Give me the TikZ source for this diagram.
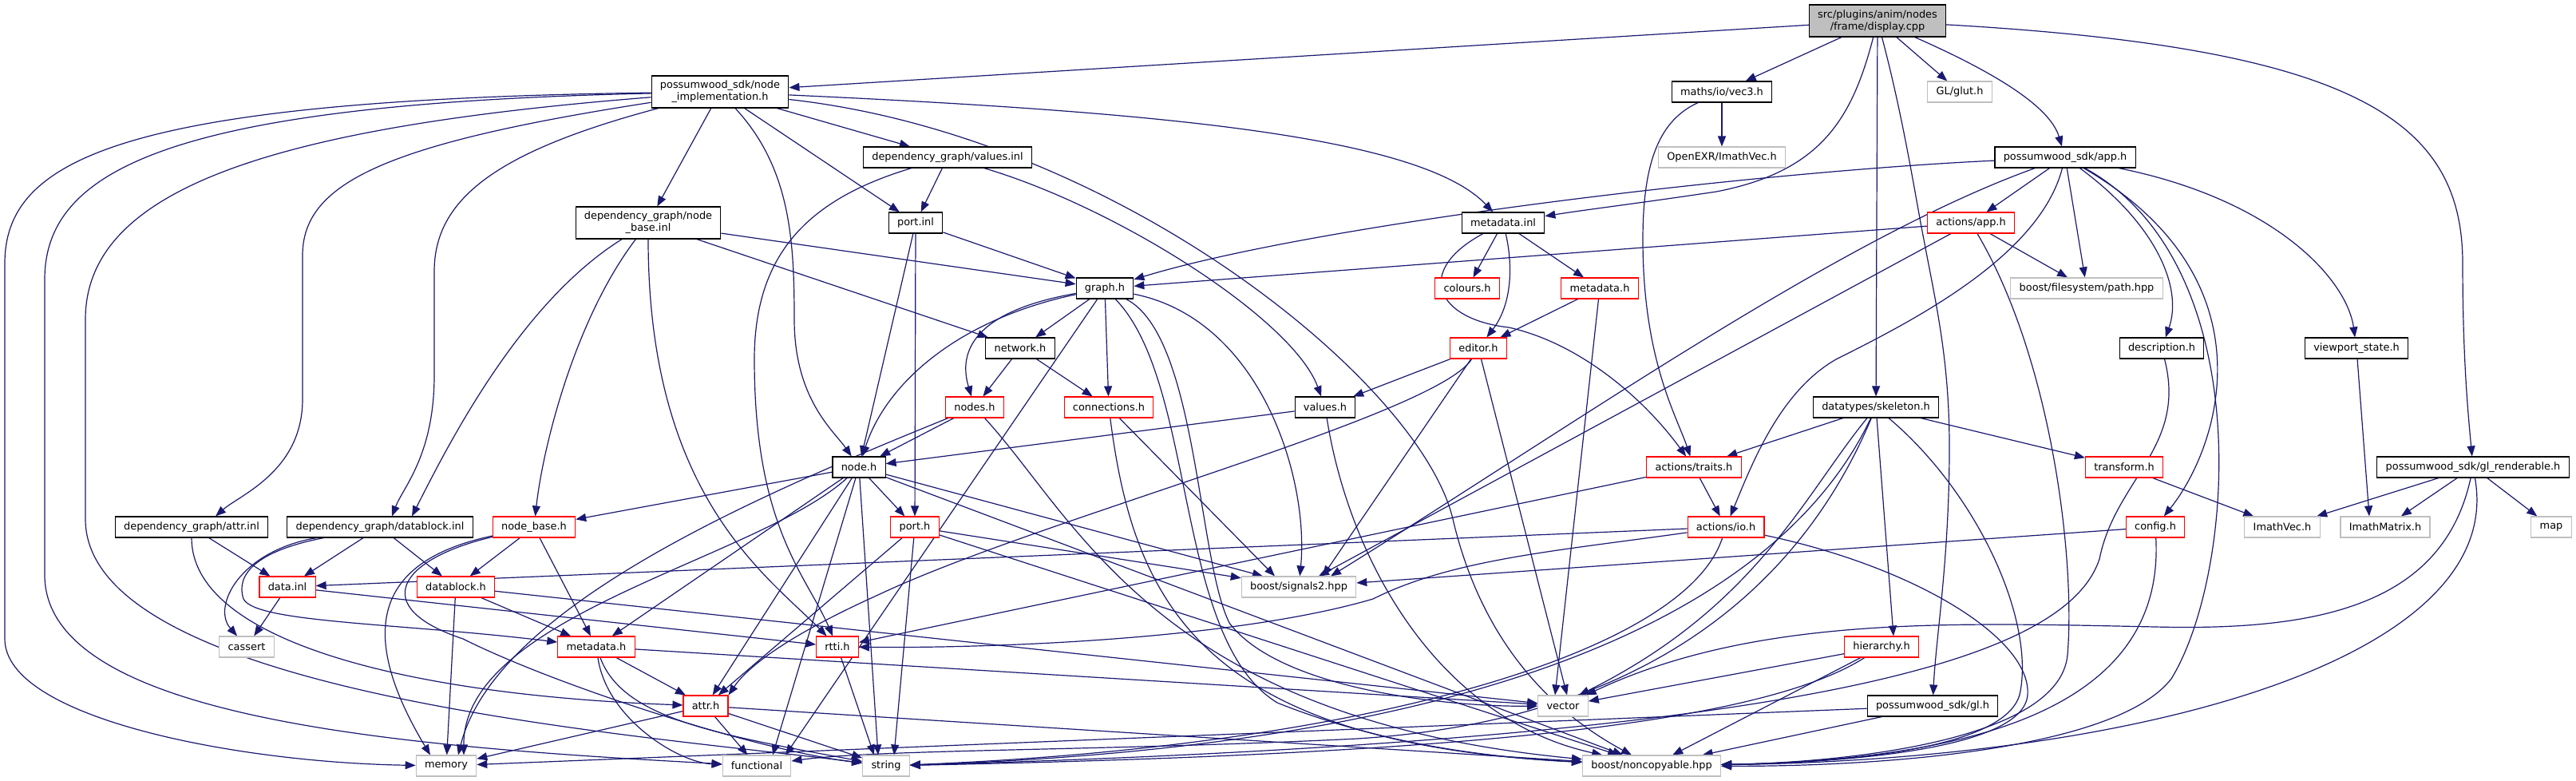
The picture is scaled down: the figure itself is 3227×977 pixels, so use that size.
\documentclass[tikz,border=0pt]{standalone}
\usepackage{fontspec}
\setmainfont{DejaVu Sans}
\usetikzlibrary{arrows.meta}
\definecolor{eblue}{HTML}{191970}
\definecolor{gry}{HTML}{BFBFBF}
\definecolor{rootfill}{HTML}{BFBFBF}
\pgfdeclarelayer{edgelayer}
\pgfsetlayers{edgelayer,main}
\newcommand{\dgfont}{\fontsize{12.9}{15}\selectfont}
\tikzset{
  nb/.style={draw=black, fill=white, line width=1.1pt, font=\dgfont, text=black, inner xsep=10.8pt, inner ysep=0pt, minimum height=26pt, align=center},
  nr/.style={nb, draw=red},
  ng/.style={nb, draw=gry},
  tl/.style={minimum height=40pt},
  e/.style={draw=eblue, line width=1.2pt, -{Triangle[length=13pt,width=10pt]}},
}
\begin{document}
\begin{tikzpicture}[x=1pt,y=-1pt]
\useasboundingbox (0,0) rectangle (3227,977);
% nodes
\node[nb,fill=rootfill,tl] (root) at (2352,26) {src/plugins/anim/nodes\\/frame/display.cpp};
\node[nb,tl] (ni) at (902,115) {possumwood\_sdk/node\\\_implementation.h};
\node[nb] (vec3) at (2157,115) {maths/io/vec3.h};
\node[ng] (glut) at (2455,115) {GL/glut.h};
\node[nb] (valinl) at (1187,197) {dependency\_graph/values.inl};
\node[ng] (exrvec) at (2157,197) {OpenEXR/ImathVec.h};
\node[nb] (apph) at (2587,197) {possumwood\_sdk/app.h};
\node[nb,tl] (nbinl) at (812,279) {dependency\_graph/node\\\_base.inl};
\node[nb] (portinl) at (1147,279) {port.inl};
\node[nb] (mdinl) at (1883,279) {metadata.inl};
\node[nr] (actapp) at (2469,279) {actions/app.h};
\node[nb] (graphh) at (1384,361) {graph.h};
\node[nr] (colours) at (1838,361) {colours.h};
\node[nr] (mdhA) at (2004,361) {metadata.h};
\node[ng] (fspath) at (2614,361) {boost/filesystem/path.hpp};
\node[nb] (network) at (1278,436) {network.h};
\node[nr] (editor) at (1852,436) {editor.h};
\node[nb] (desc) at (2708,436) {description.h};
\node[nb] (viewport) at (2952,436) {viewport\_state.h};
\node[nr] (nodesh) at (1221,510) {nodes.h};
\node[nr] (conn) at (1389,510) {connections.h};
\node[nb] (values) at (1660,510) {values.h};
\node[nb] (skel) at (2350,510) {datatypes/skeleton.h};
\node[nb] (nodeh) at (1076,585) {node.h};
\node[nr] (traits) at (2122,585) {actions/traits.h};
\node[nr] (transform) at (2661,585) {transform.h};
\node[nb] (glrend) at (3098,585) {possumwood\_sdk/gl\_renderable.h};
\node[nb] (attrinl) at (240,660) {dependency\_graph/attr.inl};
\node[nb] (dbinl) at (476,660) {dependency\_graph/datablock.inl};
\node[nr] (nbh) at (669,660) {node\_base.h};
\node[nr] (porth) at (1146,660) {port.h};
\node[nr] (ioh) at (2162,660) {actions/io.h};
\node[nr] (config) at (2700,660) {config.h};
\node[ng] (imathvec) at (2859,660) {ImathVec.h};
\node[ng] (imathmat) at (2988,660) {ImathMatrix.h};
\node[ng] (maph) at (3196,660) {map};
\node[nr] (datainl) at (360,735) {data.inl};
\node[nr] (dbh) at (571,735) {datablock.h};
\node[ng] (signals) at (1627,735) {boost/signals2.hpp};
\node[ng] (cassert) at (309,810) {cassert};
\node[nr] (mdhB) at (747,810) {metadata.h};
\node[nr] (rtti) at (1049,810) {rtti.h};
\node[nr] (hier) at (2357,810) {hierarchy.h};
\node[nr] (attrh) at (884,884) {attr.h};
\node[ng] (vectorh) at (1958,884) {vector};
\node[nb] (glh) at (2421,884) {possumwood\_sdk/gl.h};
\node[ng] (memoryh) at (559,959) {memory};
\node[ng] (functionalh) at (948,959) {functional};
\node[ng] (stringh) at (1110,959) {string};
\node[ng] (noncopy) at (2069,959) {boost/noncopyable.hpp};

\begin{pgfonlayer}{edgelayer}
% root
\draw[e] (root) -- (ni);
\draw[e] (root) -- (vec3);
\draw[e] (root) -- (glut);
\draw[e] (root) .. controls (2520,100) and (2570,140) .. (apph);
\draw[e] (root) .. controls (2320,150) and (2280,215) .. (2150,240) .. controls (2050,255) and (1990,262) .. (mdinl);
\draw[e] (root) -- (skel);
\draw[e] (root) .. controls (2385,150) and (2400,250) .. (2410,300) .. controls (2425,380) and (2442,450) .. (2442,560) .. controls (2442,700) and (2425,800) .. (glh);
\draw[e] (root) .. controls (2950,60) and (3085,150) .. (3085,330) .. controls (3085,450) and (3092,520) .. (glrend);
% vec3
\draw[e] (vec3) -- (exrvec);
\draw[e] (vec3) .. controls (2080,150) and (2058,200) .. (2058,300) .. controls (2058,450) and (2100,520) .. (traits);
% node_implementation
\draw[e] (ni) .. controls (150,125) and (6,200) .. (6,330) -- (6,800) .. controls (6,900) and (300,955) .. (memoryh);
\draw[e] (ni) .. controls (220,130) and (56,210) .. (56,350) -- (56,720) .. controls (56,900) and (500,935) .. (functionalh);
\draw[e] (ni) .. controls (330,160) and (107,240) .. (107,400) -- (107,650) .. controls (107,870) and (800,920) .. (stringh);
\draw[e] (ni) .. controls (480,180) and (379,230) .. (379,320) -- (379,500) .. controls (379,590) and (300,620) .. ([xshift=30pt]attrinl.north);
\draw[e] (ni) .. controls (620,190) and (544,250) .. (544,340) -- (544,470) .. controls (544,570) and (505,610) .. ([xshift=15pt]dbinl.north);
\draw[e] (ni) -- (nbinl);
\draw[e] (ni) .. controls (990,210) and (995,300) .. (995,400) .. controls (995,500) and (1045,540) .. (nodeh);
\draw[e] (ni) -- (portinl);
\draw[e] (ni) -- (valinl);
\draw[e] (ni) .. controls (1450,140) and (1780,170) .. (mdinl);
\draw[e] (ni) .. controls (1400,170) and (1780,480) .. (1820,650) .. controls (1860,820) and (1960,900) .. (noncopy);
% values.inl
\draw[e] (valinl) -- (portinl);
\draw[e] (valinl) .. controls (1400,260) and (1620,400) .. (values);
\draw[e] (valinl) .. controls (1010,250) and (945,320) .. (945,450) .. controls (945,660) and (1010,720) .. (rtti);
% node_base.inl
\draw[e] (nbinl) .. controls (650,380) and (560,560) .. ([xshift=40pt]dbinl.north);
\draw[e] (nbinl) .. controls (720,400) and (680,560) .. (nbh);
\draw[e] (nbinl) .. controls (812,620) and (960,720) .. (rtti);
\draw[e] (nbinl) -- (network);
\draw[e] (nbinl) -- (graphh);
% port.inl
\draw[e] (portinl) -- (graphh);
\draw[e] (portinl) -- (nodeh);
\draw[e] (portinl) -- (porth);
% metadata.inl
\draw[e] (mdinl) -- (colours);
\draw[e] (mdinl) .. controls (1895,330) and (1895,380) .. (editor);
\draw[e] (mdinl) -- (mdhA);
\draw[e] (mdinl) .. controls (1770,340) and (1800,400) .. (1890,410) .. controls (1980,430) and (2060,500) .. (traits);
% app.h
\draw[e] (apph) .. controls (2200,215) and (1650,280) .. (graphh);
\draw[e] (apph) -- (actapp);
\draw[e] (apph) .. controls (2555,320) and (2400,400) .. (2300,450) .. controls (2230,490) and (2195,580) .. (ioh);
\draw[e] (apph) -- (fspath);
\draw[e] (apph) .. controls (2700,280) and (2735,360) .. (desc);
\draw[e] (apph) .. controls (2850,250) and (2940,350) .. (viewport);
\draw[e] (apph) .. controls (2300,300) and (1960,540) .. ([xshift=40pt]signals.north);
\draw[e] (apph) .. controls (2850,350) and (2780,560) .. (config);
\draw[e] (apph) .. controls (2830,330) and (2800,720) .. (2720,850) .. controls (2650,940) and (2350,960) .. (noncopy);
% actions/app.h
\draw[e] (actapp) -- (graphh);
\draw[e] (actapp) -- (fspath);
\draw[e] (actapp) .. controls (2570,450) and (2600,700) .. (2590,820) .. controls (2580,930) and (2300,955) .. (noncopy);
\draw[e] (actapp) -- (signals);
% graph.h
\draw[e] (graphh) .. controls (1220,390) and (1200,440) .. (nodesh);
\draw[e] (graphh) .. controls (1200,400) and (1110,480) .. (nodeh);
\draw[e] (graphh) -- (network);
\draw[e] (graphh) -- (conn);
\draw[e] (graphh) -- ([xshift=36pt]functionalh.north);
\draw[e] (graphh) .. controls (1500,480) and (1470,800) .. (1600,880) .. controls (1750,940) and (1900,950) .. (noncopy);
\draw[e] (graphh) .. controls (1500,420) and (1500,700) .. (1540,780) .. controls (1600,860) and (1800,885) .. (vectorh);
\draw[e] (graphh) .. controls (1580,400) and (1640,600) .. (signals);
% metadata.h (upper)
\draw[e] (mdhA) -- (editor);
\draw[e] (mdhA) -- ([xshift=-10pt]vectorh.north);
% network.h
\draw[e] (network) -- (nodesh);
\draw[e] (network) -- (conn);
% editor.h
\draw[e] (editor) -- (values);
\draw[e] (editor) -- ([xshift=30pt]signals.north);
\draw[e] (editor) -- ([xshift=5pt]vectorh.north);
\draw[e] (editor) .. controls (1800,520) and (1300,650) .. (1100,745) .. controls (1000,790) and (940,830) .. (attrh.north east);
% nodes.h
\draw[e] (nodesh) -- (nodeh);
\draw[e] (nodesh) .. controls (950,620) and (620,760) .. ([xshift=15pt]memoryh.north);
\draw[e] (nodesh) .. controls (1350,650) and (1450,900) .. (noncopy);
% connections.h
\draw[e] (conn) -- ([xshift=-30pt]signals.north);
\draw[e] (conn) .. controls (1420,750) and (1500,930) .. (noncopy);
% values.h
\draw[e] (values) -- (nodeh);
\draw[e] (values) .. controls (1690,700) and (1800,900) .. (noncopy);
% skeleton.h
\draw[e] (skel) -- (traits);
\draw[e] (skel) -- (transform);
\draw[e] (skel) -- ([xshift=15pt]hier.north);
\draw[e] (skel) .. controls (2260,620) and (2200,760) .. ([xshift=20pt]vectorh.north);
\draw[e] (skel) .. controls (2260,700) and (2000,930) .. (stringh);
\draw[e] (skel) .. controls (2270,700) and (2100,900) .. (1700,925) .. controls (1400,940) and (1100,938) .. (functionalh);
\draw[e] (skel) .. controls (2480,620) and (2550,780) .. (2530,870) .. controls (2510,940) and (2300,955) .. (noncopy);
% actions/traits.h
\draw[e] (traits) -- (ioh);
\draw[e] (traits) -- (rtti);
% transform.h
\draw[e] (transform) -- (imathvec);
% gl_renderable.h
\draw[e] (glrend) -- (imathvec);
\draw[e] (glrend) -- (imathmat);
\draw[e] (glrend) -- (maph);
\draw[e] (glrend) .. controls (3060,760) and (2900,790) .. (2700,785) .. controls (2450,780) and (2200,770) .. (vectorh);
\draw[e] (glrend) .. controls (3140,820) and (2700,950) .. (noncopy);
% viewport_state.h
\draw[e] (viewport) -- ([xshift=-20pt]imathmat.north);
% description.h
\draw[e] (desc) .. controls (2740,560) and (2650,600) .. (2630,700) .. controls (2590,820) and (2300,925) .. (stringh);
% actions/io.h
\draw[e] (ioh) -- (datainl);
\draw[e] (ioh) .. controls (1950,690) and (1820,700) .. (1720,750) .. controls (1550,800) and (1250,812) .. (rtti);
\draw[e] (ioh) .. controls (2110,820) and (1700,935) .. (stringh);
\draw[e] (ioh) .. controls (2400,710) and (2545,800) .. (2540,870) .. controls (2535,940) and (2300,955) .. (noncopy);
% config.h
\draw[e] (config) -- (signals);
\draw[e] (config) .. controls (2710,850) and (2550,950) .. (noncopy);
% hierarchy.h
\draw[e] (hier) -- (vectorh);
\draw[e] (hier) .. controls (2200,910) and (1800,945) .. (stringh);
\draw[e] (hier) -- (noncopy);
% gl.h
\draw[e] (glh) -- (memoryh);
\draw[e] (glh) -- (noncopy);
% node.h
\draw[e] (nodeh) -- (nbh);
\draw[e] (nodeh) -- (porth);
\draw[e] (nodeh) -- ([xshift=-45pt]signals.north);
\draw[e] (nodeh) -- (mdhB);
\draw[e] (nodeh) -- (attrh);
\draw[e] (nodeh) .. controls (950,700) and (580,770) .. ([xshift=22pt]memoryh.north);
\draw[e] (nodeh) -- ([xshift=20pt]functionalh.north);
\draw[e] (nodeh) -- (noncopy);
\draw[e] (nodeh) -- ([xshift=-10pt]stringh.north);
% node_base.h
\draw[e] (nbh) -- (dbh);
\draw[e] (nbh) -- (mdhB);
\draw[e] (nbh) .. controls (480,700) and (440,780) .. ([xshift=-20pt]memoryh.north);
\draw[e] (nbh) .. controls (500,700) and (460,760) .. (580,800) .. controls (700,860) and (950,940) .. (stringh);
% datablock.inl
\draw[e] (dbinl) -- (datainl);
\draw[e] (dbinl) -- (dbh);
\draw[e] (dbinl) .. controls (300,690) and (265,760) .. (cassert);
\draw[e] (dbinl) .. controls (320,690) and (295,720) .. (305,750) .. controls (320,780) and (500,780) .. (mdhB);
% attr.inl
\draw[e] (attrinl) -- (datainl);
\draw[e] (attrinl) .. controls (240,800) and (500,870) .. (attrh);
% data.inl
\draw[e] (datainl) -- (cassert);
\draw[e] (datainl) -- (rtti);
% datablock.h
\draw[e] (dbh) -- (mdhB);
\draw[e] (dbh) -- (memoryh);
\draw[e] (dbh) -- (vectorh);
% metadata.h (lower)
\draw[e] (mdhB) -- (attrh);
\draw[e] (mdhB) .. controls (760,900) and (850,955) .. (functionalh);
\draw[e] (mdhB) .. controls (780,900) and (900,920) .. (stringh);
\draw[e] (mdhB) -- (vectorh);
% rtti.h
\draw[e] (rtti) -- ([xshift=-15pt]stringh.north);
% attr.h
\draw[e] (attrh) -- (memoryh);
\draw[e] (attrh) -- (functionalh);
\draw[e] (attrh) -- (stringh);
\draw[e] (attrh) -- (noncopy);
% port.h
\draw[e] (porth) -- (attrh);
\draw[e] (porth) -- ([xshift=10pt]stringh.north);
\draw[e] (porth) -- (noncopy);
\draw[e] (porth) -- (signals);
\end{pgfonlayer}
\end{tikzpicture}
\end{document}
